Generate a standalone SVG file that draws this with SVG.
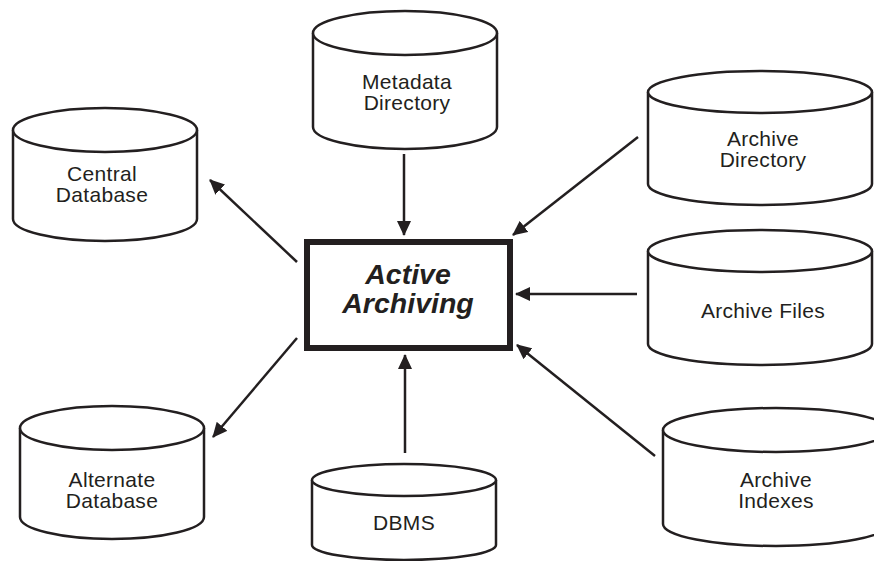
<svg xmlns="http://www.w3.org/2000/svg" width="874" height="561" viewBox="0 0 874 561">
<style>
.cyl{fill:#fff;stroke:#231f20;stroke-width:2.5}
.lbl{font-family:"Liberation Sans",Arial,sans-serif;font-size:21px;letter-spacing:0.3px;fill:#231f20;text-anchor:middle}
.title{font-family:"Liberation Sans",Arial,sans-serif;font-size:28.5px;font-weight:bold;font-style:italic;fill:#231f20;text-anchor:middle}
.conn line{stroke:#231f20;stroke-width:2.5;marker-end:url(#ah)}
</style>
<defs>
<marker id="ah" markerUnits="userSpaceOnUse" markerWidth="16" markerHeight="14" refX="14" refY="7" orient="auto">
<path d="M0,0 L15,7 L0,14 Z" fill="#231f20"/>
</marker>
</defs>
<rect width="874" height="561" fill="#fff"/>
<g id="metadata-directory">
<path class="cyl" d="M313,33 L313,127 A92,22 0 0 0 497,127 L497,33"/>
<ellipse class="cyl" cx="405" cy="33" rx="92" ry="22"/>
<text class="lbl" x="407" y="89">Metadata</text>
<text class="lbl" x="407" y="110">Directory</text>
</g>
<g id="central-database">
<path class="cyl" d="M13,130 L13,219 A92,22 0 0 0 197,219 L197,130"/>
<ellipse class="cyl" cx="105" cy="130" rx="92" ry="22"/>
<text class="lbl" x="102" y="181">Central</text>
<text class="lbl" x="102" y="202">Database</text>
</g>
<g id="archive-directory">
<path class="cyl" d="M648,92 L648,184 A112,21 0 0 0 872,184 L872,92"/>
<ellipse class="cyl" cx="760" cy="92" rx="112" ry="21"/>
<text class="lbl" x="763" y="146">Archive</text>
<text class="lbl" x="763" y="167">Directory</text>
</g>
<g id="archive-files">
<path class="cyl" d="M648,251 L648,344 A112,21 0 0 0 872,344 L872,251"/>
<ellipse class="cyl" cx="760" cy="251" rx="112" ry="21"/>
<text class="lbl" x="763" y="318">Archive Files</text>
</g>
<g id="alternate-database">
<path class="cyl" d="M20,428 L20,517 A92,22 0 0 0 204,517 L204,428"/>
<ellipse class="cyl" cx="112" cy="428" rx="92" ry="22"/>
<text class="lbl" x="112" y="487">Alternate</text>
<text class="lbl" x="112" y="508">Database</text>
</g>
<g id="dbms">
<path class="cyl" d="M312,480 L312,545 A92,15 0 0 0 496,545 L496,480"/>
<ellipse class="cyl" cx="404" cy="480" rx="92" ry="16"/>
<text class="lbl" x="404" y="530">DBMS</text>
</g>
<g id="archive-indexes">
<path class="cyl" d="M663,430 L663,524 A113,22 0 0 0 889,524 L889,430"/>
<ellipse class="cyl" cx="776" cy="430" rx="113" ry="22"/>
<text class="lbl" x="776" y="487">Archive</text>
<text class="lbl" x="776" y="508">Indexes</text>
</g>
<g id="active-archiving">
<rect x="307" y="242" width="203" height="106" fill="#fff" stroke="#231f20" stroke-width="6"/>
<text class="title" x="408" y="284">Active</text>
<text class="title" x="408" y="313">Archiving</text>
</g>
<g id="connectors" class="conn">
<line x1="404" y1="154" x2="404" y2="235"/>
<line x1="297" y1="262" x2="210" y2="180"/>
<line x1="638" y1="137" x2="513" y2="235"/>
<line x1="637" y1="294" x2="516" y2="294"/>
<line x1="297" y1="338" x2="213" y2="437"/>
<line x1="405" y1="453" x2="405" y2="355"/>
<line x1="655" y1="456" x2="517" y2="345"/>
</g>
</svg>
